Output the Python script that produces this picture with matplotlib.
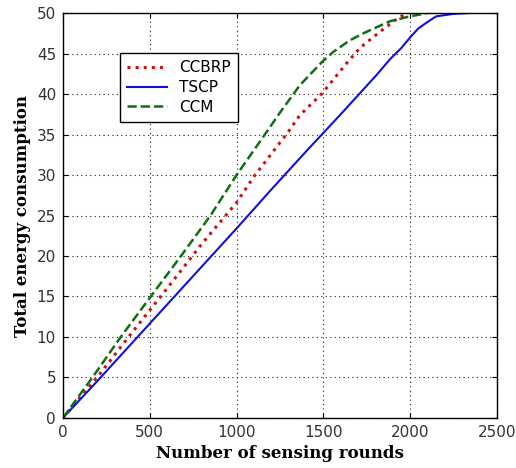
import numpy as np
import matplotlib.pyplot as plt

# data
tscp_x = [0, 200, 400, 600, 800, 1000, 1200, 1400, 1600, 1800, 1884, 1950, 2000, 2047, 2100, 2150, 2250, 2330]
tscp_y = [0, 4.6, 9.3, 14.0, 18.7, 23.4, 28.2, 32.9, 37.5, 42.2, 44.3, 45.7, 47.0, 48.1, 48.9, 49.6, 49.9, 50]

ccbrp_x = [0, 200, 400, 600, 800, 1000, 1100, 1200, 1300, 1365, 1494, 1634, 1711, 1826, 1931, 1985]
ccbrp_y = [0, 5.1, 10.6, 16.0, 21.5, 26.6, 29.8, 32.6, 35.4, 37.4, 40.1, 43.8, 45.7, 47.7, 49.4, 50]

ccm_x = [0, 170, 333, 506, 680, 850, 1000, 1150, 1250, 1365, 1494, 1557, 1650, 1730, 1884, 2000, 2100]
ccm_y = [0, 5, 10, 15, 20, 25, 30, 34.6, 37.7, 41.1, 44.0, 45.2, 46.6, 47.5, 49.0, 49.6, 50]

x_ticks = [0, 500, 1000, 1500, 2000, 2500]
y_ticks = [0, 5, 10, 15, 20, 25, 30, 35, 40, 45, 50]

fig = plt.figure(figsize=(5.16, 4.68), dpi=100)
ax = fig.add_axes([0.122, 0.107, 0.841, 0.865])

ax.plot(ccbrp_x, ccbrp_y, linestyle=":", color="#d01010", linewidth=2.2, label="CCBRP")
ax.plot(tscp_x, tscp_y, linestyle="-", color="#1010e0", linewidth=1.5, label="TSCP")
ax.plot(ccm_x, ccm_y, linestyle="--", color="#107010", linewidth=1.8, label="CCM")

ax.set_xlim(0, 2500)
ax.set_ylim(0, 50)
ax.set_xticks(x_ticks)
ax.set_yticks(y_ticks)
ax.tick_params(direction="in", top=True, right=True, labelsize=11, labelcolor="#333333", pad=5)
ax.grid(True, linestyle=(0, (1, 3)), color="#222222", linewidth=0.8)

for sp in ax.spines.values():
    sp.set_linewidth(1.0)

ax.set_xlabel("Number of sensing rounds", fontfamily="serif", fontweight="bold", fontsize=12)
ax.set_ylabel("Total energy consumption", fontfamily="serif", fontweight="bold", fontsize=12)

leg = ax.legend(loc="upper left", bbox_to_anchor=(0.113, 0.921), fancybox=False,
                edgecolor="black", framealpha=1, fontsize=11, handlelength=2.6,
                borderpad=0.5, labelspacing=0.3)
leg.get_frame().set_linewidth(1.0)

fig.savefig("out.png", dpi=100)
